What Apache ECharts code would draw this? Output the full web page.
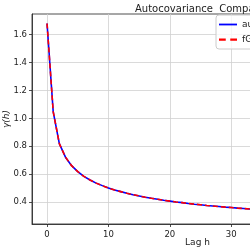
<!DOCTYPE html>
<html><head><meta charset="utf-8">
<script src="https://cdn.jsdelivr.net/npm/echarts@6/dist/echarts.min.js"></script>
<style>html,body{margin:0;padding:0;background:#fff}#c{width:250px;height:250px}</style>
</head><body><div id="c"></div>
<script>
const lags = [0,1,2,3,4,5,6,7,8,9,10,11,12,13,14,15,16,17,18,19,20,21,22,23,24,25,26,27,28,29,30,31,32,33,34,35,36,37,38,39,40,41,42,43,44,45,46,47,48,49];
const acvfEmpirical = [1.68,1.049,0.819,0.722,0.661,0.618,0.584,0.558,0.536,0.518,0.501,0.487,0.475,0.463,0.453,0.444,0.435,0.427,0.420,0.413,0.407,0.401,0.396,0.390,0.385,0.381,0.376,0.372,0.368,0.364,0.361,0.357,0.354,0.350,0.347,0.344,0.341,0.339,0.336,0.333,0.331,0.328,0.326,0.324,0.321,0.319,0.317,0.315,0.313,0.311];
const acvfTheory = [1.68,1.049,0.819,0.722,0.661,0.618,0.584,0.558,0.536,0.518,0.501,0.487,0.475,0.463,0.453,0.444,0.435,0.427,0.420,0.413,0.407,0.401,0.396,0.390,0.385,0.381,0.376,0.372,0.368,0.364,0.361,0.357,0.354,0.350,0.347,0.344,0.341,0.339,0.336,0.333,0.331,0.328,0.326,0.324,0.321,0.319,0.317,0.315,0.313,0.311];
const xTicks = [0,10,20,30,40,50];
const yTicks = [0.4,0.6,0.8,1.0,1.2,1.4,1.6];
const seriesNames = ['autocovariance (empirical)','fGn theoretical'];
const titleText = 'Autocovariance  Comparison';

const chart = echarts.init(document.getElementById('c'), null, {renderer:'canvas'});
const font = 'DejaVu Sans';
chart.setOption({
  animation:false,
  title:{text:titleText,left:130,top:-1,textStyle:{fontFamily:font,fontSize:10,fontWeight:'normal',color:'#222'}},
  legend:{left:216,top:15,orient:'vertical',itemWidth:18,itemHeight:8,itemGap:6,padding:[5,4,5,3],
    backgroundColor:'rgba(255,255,255,0.8)',borderColor:'#ccc',borderWidth:1,borderRadius:3,
    textStyle:{fontFamily:font,fontSize:9,color:'#222'},
    data:[
      {name:seriesNames[0],icon:'path://M0,0h20v2h-20z',itemStyle:{color:'#0000ff'}},
      {name:seriesNames[1],icon:'path://M0,0h6v2h-6z M10,0h6v2h-6z',itemStyle:{color:'#ff0000'}}
    ]},
  grid:{left:32,top:14,width:331,bottom:26,show:true,borderColor:'#222',borderWidth:0.8,containLabel:false,outerBoundsMode:'none'},
  xAxis:{type:'value',min:-2.45,max:51.45,
    name:'Lag h',nameLocation:'middle',nameGap:14,nameMoveOverlap:false,nameTextStyle:{fontFamily:font,fontSize:9,color:'#222'},
    axisLine:{onZero:false,lineStyle:{color:'#222',width:0.8}},
    axisTick:{customValues:xTicks,length:3,lineStyle:{color:'#222',width:0.8}},
    axisLabel:{customValues:xTicks,fontFamily:font,fontSize:8.5,color:'#222',margin:6},
    splitLine:{show:true,lineStyle:{color:'#d0d0d0',width:0.8}}},
  yAxis:{type:'value',min:0.243,max:1.748,
    name:'γ(h)',nameLocation:'middle',nameGap:21,nameMoveOverlap:false,nameRotate:90,nameTextStyle:{fontFamily:font,fontSize:9,color:'#222',fontStyle:'italic'},
    axisLine:{show:true,onZero:false,lineStyle:{color:'#222',width:0.8}},
    axisTick:{show:true,customValues:yTicks,length:3,lineStyle:{color:'#222',width:0.8}},
    axisLabel:{customValues:yTicks,fontFamily:font,fontSize:8.5,color:'#222',margin:5,formatter:v=>v.toFixed(1)},
    splitLine:{show:true,lineStyle:{color:'#d0d0d0',width:0.8}}},
  series:[
    {name:seriesNames[0],type:'line',data:lags.map((h,i)=>[h,acvfEmpirical[i]]),symbol:'none',
      lineStyle:{color:'#0000ff',width:1.6},itemStyle:{color:'#0000ff'},z:2},
    {name:seriesNames[1],type:'line',data:lags.map((h,i)=>[h,acvfTheory[i]]),symbol:'none',
      lineStyle:{color:'#ff0000',width:1.6,type:[5,3]},itemStyle:{color:'#ff0000'},z:3}
  ]
});
</script></body></html>
